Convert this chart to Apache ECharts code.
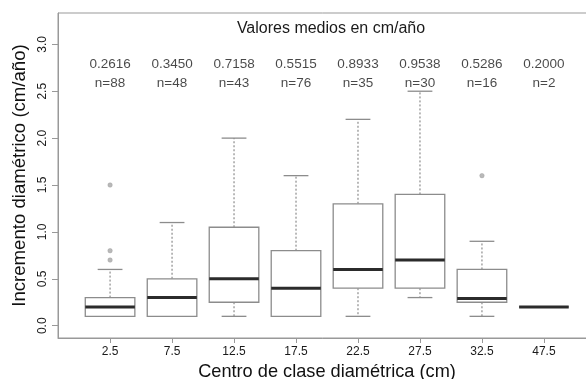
<!DOCTYPE html>
<html>
<head>
<meta charset="utf-8">
<script src="https://cdn.jsdelivr.net/npm/echarts@6/dist/echarts.min.js"></script>
<style>html,body{margin:0;padding:0;background:#fff}#c{width:586px;height:379px}</style>
</head>
<body>
<div id="c"></div>
<script>
// ---- data ----
const categories = ['2.5', '7.5', '12.5', '17.5', '22.5', '27.5', '32.5', '47.5'];
const whiskerLow = [0.1, 0.1, 0.1, 0.1, 0.1, 0.3, 0.1, 0.2];
const q1 = [0.1, 0.1, 0.25, 0.1, 0.4, 0.4, 0.25, 0.2];
const medians = [0.2, 0.3, 0.5, 0.4, 0.6, 0.7, 0.29, 0.2];
const q3 = [0.3, 0.5, 1.05, 0.8, 1.3, 1.4, 0.6, 0.2];
const whiskerHigh = [0.6, 1.1, 2.0, 1.6, 2.2, 2.5, 0.9, 0.2];
const outlierCat = [0, 0, 0, 6];
const outlierVal = [0.7, 0.8, 1.5, 1.6];
const means = ['0.2616', '0.3450', '0.7158', '0.5515', '0.8933', '0.9538', '0.5286', '0.2000'];
const counts = ['n=88', 'n=48', 'n=43', 'n=76', 'n=35', 'n=30', 'n=16', 'n=2'];
const yTicks = [0, 0.5, 1.0, 1.5, 2.0, 2.5, 3.0];
const meanRowY = 2.79;
const countRowY = 2.59;

const FONT = '"Liberation Sans", Arial, sans-serif';
const boxData = categories.map((c, i) => [i, whiskerLow[i], q1[i], medians[i], q3[i], whiskerHigh[i]]);
const outlierData = outlierCat.map((c, i) => [c, outlierVal[i]]);
const meanData = categories.map((c, i) => [i, meanRowY, means[i]]);
const countData = categories.map((c, i) => [i, countRowY, counts[i]]);
const catIdx = categories.map((c, i) => i);

function renderBox(params, api) {
  const x = api.value(0);
  const lo = api.value(1), a = api.value(2), m = api.value(3), b = api.value(4), hi = api.value(5);
  const bw = api.size([0.8, 0])[0];
  const cw = bw / 2;
  const pLo = api.coord([x, lo]), pA = api.coord([x, a]), pM = api.coord([x, m]), pB = api.coord([x, b]), pHi = api.coord([x, hi]);
  const cx = pM[0];
  const grey = '#8c8c8c';
  const dash = { stroke: grey, lineWidth: 1.2, lineDash: [2, 2] };
  const solid = { stroke: grey, lineWidth: 1.3 };
  return {
    type: 'group',
    children: [
      { type: 'line', shape: { x1: cx, y1: pB[1], x2: cx, y2: pHi[1] }, style: dash },
      { type: 'line', shape: { x1: cx, y1: pA[1], x2: cx, y2: pLo[1] }, style: dash },
      { type: 'line', shape: { x1: cx - cw / 2, y1: pHi[1], x2: cx + cw / 2, y2: pHi[1] }, style: solid },
      { type: 'line', shape: { x1: cx - cw / 2, y1: pLo[1], x2: cx + cw / 2, y2: pLo[1] }, style: solid },
      { type: 'rect', shape: { x: cx - bw / 2, y: pB[1], width: bw, height: pA[1] - pB[1] }, style: { fill: '#fff', stroke: grey, lineWidth: 1.3 } },
      { type: 'line', shape: { x1: cx - bw / 2, y1: pM[1], x2: cx + bw / 2, y2: pM[1] }, style: { stroke: '#2b2b2b', lineWidth: 3 } }
    ]
  };
}

const chart = echarts.init(document.getElementById('c'), null, { renderer: 'canvas' });
chart.setOption({
  animation: false,
  backgroundColor: '#fff',
  textStyle: { fontFamily: FONT },
  title: {
    text: 'Valores medios en cm/año',
    left: 326, top: 16, textAlign: 'center',
    textStyle: { fontFamily: FONT, fontSize: 16, fontWeight: 'normal', color: '#1a1a1a' }
  },
  grid: {
    left: 58, width: 538, top: 13, height: 325,
    outerBoundsMode: 'none', containLabel: false,
    show: true, borderColor: '#999', borderWidth: 1, backgroundColor: 'transparent'
  },
  xAxis: {
    type: 'value', min: -0.84, max: 7.84,
    splitLine: { show: false },
    axisLine: { show: true, onZero: false, lineStyle: { color: '#999' } },
    axisTick: { show: true, customValues: catIdx, length: 5, lineStyle: { color: '#999' } },
    axisLabel: {
      customValues: catIdx, margin: 8,
      formatter: v => categories[Math.round(v)],
      color: '#1a1a1a', fontSize: 12, fontFamily: FONT
    },
    name: 'Centro de clase diamétrica (cm)', nameLocation: 'middle', nameGap: 25,
    nameTextStyle: { fontSize: 18.2, color: '#111', fontFamily: FONT }
  },
  yAxis: {
    type: 'value', min: -0.131, max: 3.334,
    splitLine: { show: false },
    axisLine: { show: true, onZero: false, lineStyle: { color: '#999' } },
    axisTick: { show: true, customValues: yTicks, length: 6, lineStyle: { color: '#999' } },
    axisLabel: {
      customValues: yTicks, rotate: 90, margin: 9,
      formatter: v => v.toFixed(1),
      color: '#1a1a1a', fontSize: 12, fontFamily: FONT
    },
    name: 'Incremento diamétrico (cm/año)', nameLocation: 'middle', nameGap: 28,
    nameTextStyle: { fontSize: 18.6, color: '#111', fontFamily: FONT }
  },
  series: [
    { type: 'custom', renderItem: renderBox, data: boxData, encode: { x: 0, y: [1, 2, 3, 4, 5] }, z: 2 },
    { type: 'scatter', data: outlierData, symbol: 'circle', symbolSize: 4.5,
      itemStyle: { color: '#a8a8a8', borderColor: '#999', borderWidth: 0.5 }, z: 3 },
    { type: 'scatter', data: meanData, symbolSize: 0,
      label: { show: true, position: 'inside', formatter: p => p.data[2], color: '#1a1a1a', fontSize: 13.5, fontFamily: FONT } },
    { type: 'scatter', data: countData, symbolSize: 0,
      label: { show: true, position: 'inside', formatter: p => p.data[2], color: '#1a1a1a', fontSize: 13.5, fontFamily: FONT } }
  ]
});
</script>
</body>
</html>
